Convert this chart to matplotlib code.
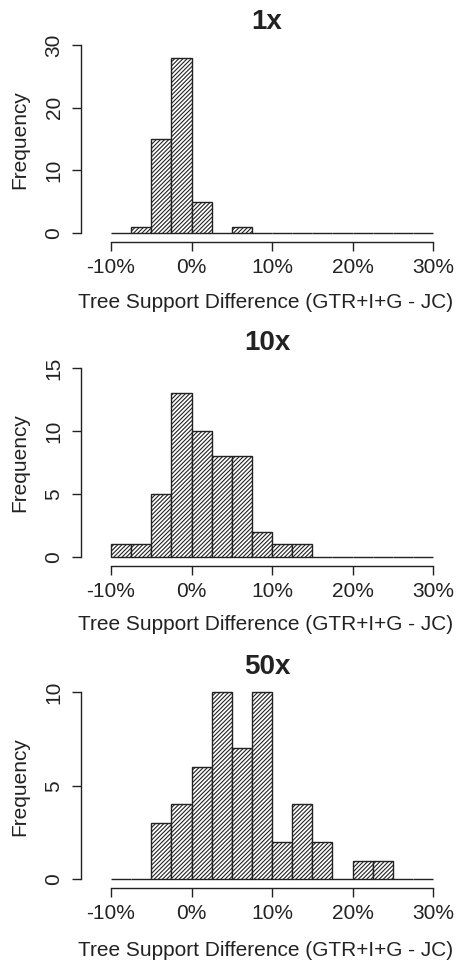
import matplotlib.pyplot as plt
import numpy as np

plt.rcParams['font.family'] = ['Liberation Sans', 'DejaVu Sans']
plt.rcParams['hatch.linewidth'] = 0.8

# bin edges in percent, 2.5% wide
bin_edges = np.arange(-10, 30.1, 2.5)

titles = ['1x', '10x', '50x']
counts_1x = [0, 1, 15, 28, 5, 0, 1, 0, 0, 0, 0, 0, 0, 0, 0, 0]
counts_10x = [1, 1, 5, 13, 10, 8, 8, 2, 1, 1, 0, 0, 0, 0, 0, 0]
counts_50x = [0, 0, 3, 4, 6, 10, 7, 10, 2, 4, 2, 0, 1, 1, 0, 0]
y_ticks = [[0, 10, 20, 30], [0, 5, 10, 15], [0, 5, 10]]
x_ticks = [-10, 0, 10, 20, 30]
x_tick_labels = ['-10%', '0%', '10%', '20%', '30%']

W, H = 459, 961
fig = plt.figure(figsize=(W / 100, H / 100), dpi=100)

# pixel layout of each panel: y of zero, y of top tick
panels = [
    (counts_1x, 233.0, 45.0),
    (counts_10x, 556.7, 368.3),
    (counts_50x, 879.3, 692.3),
]
title_y = [22, 343, 667]
label_y = [303, 625, 950]
freq_y = [140, 463, 787]

x_left_px, x_right_px = 111.0, 433.0
xpx = (x_right_px - x_left_px) / 40.0
pad = 12.0
ink = '#222222'

for i, (counts, zero_px, top_px) in enumerate(panels):
    ymax = y_ticks[i][-1]
    ypx = (zero_px - top_px) / ymax
    ax_left = x_left_px - pad
    ax_right = x_right_px + pad
    ax_bottom = zero_px + 9
    ax_top = top_px - 4
    ax = fig.add_axes([ax_left / W, 1 - ax_bottom / H,
                       (ax_right - ax_left) / W, (ax_bottom - ax_top) / H])
    ax.set_xlim(-10 - pad / xpx, 30 + pad / xpx)
    ax.set_ylim(-9 / ypx, ymax + 4 / ypx)

    ax.bar(bin_edges[:-1], counts, width=2.5, align='edge',
           color='white', edgecolor=ink, linewidth=1.0, hatch='////////')

    for s in ['top', 'right']:
        ax.spines[s].set_visible(False)
    ax.spines['left'].set_position(('outward', 13))
    ax.spines['left'].set_bounds(0, ymax)
    ax.spines['bottom'].set_bounds(-10, 30)
    for s in ['left', 'bottom']:
        ax.spines[s].set_linewidth(1.0)
        ax.spines[s].set_color(ink)

    ax.set_yticks(y_ticks[i])
    ax.set_yticklabels([str(t) for t in y_ticks[i]], rotation=90, va='center',
                       fontsize=15, color=ink)
    ax.set_xticks(x_ticks)
    ax.set_xticklabels(x_tick_labels, fontsize=15, color=ink)
    ax.tick_params(axis='both', length=6.5, width=1.0, color=ink)
    ax.tick_params(axis='x', pad=5)
    ax.tick_params(axis='y', pad=6)

    fig.text(267 / W, 1 - title_y[i] / H, titles[i], ha='center', va='center',
             fontsize=20, fontweight='bold', color=ink)
    fig.text(266 / W, 1 - label_y[i] / H, 'Tree Support Difference (GTR+I+G - JC)',
             ha='center', va='center', fontsize=15, color=ink)
    fig.text(20 / W, 1 - freq_y[i] / H, 'Frequency', ha='center', va='center',
             rotation=90, fontsize=15, color=ink)

fig.savefig('out.png', dpi=100)
